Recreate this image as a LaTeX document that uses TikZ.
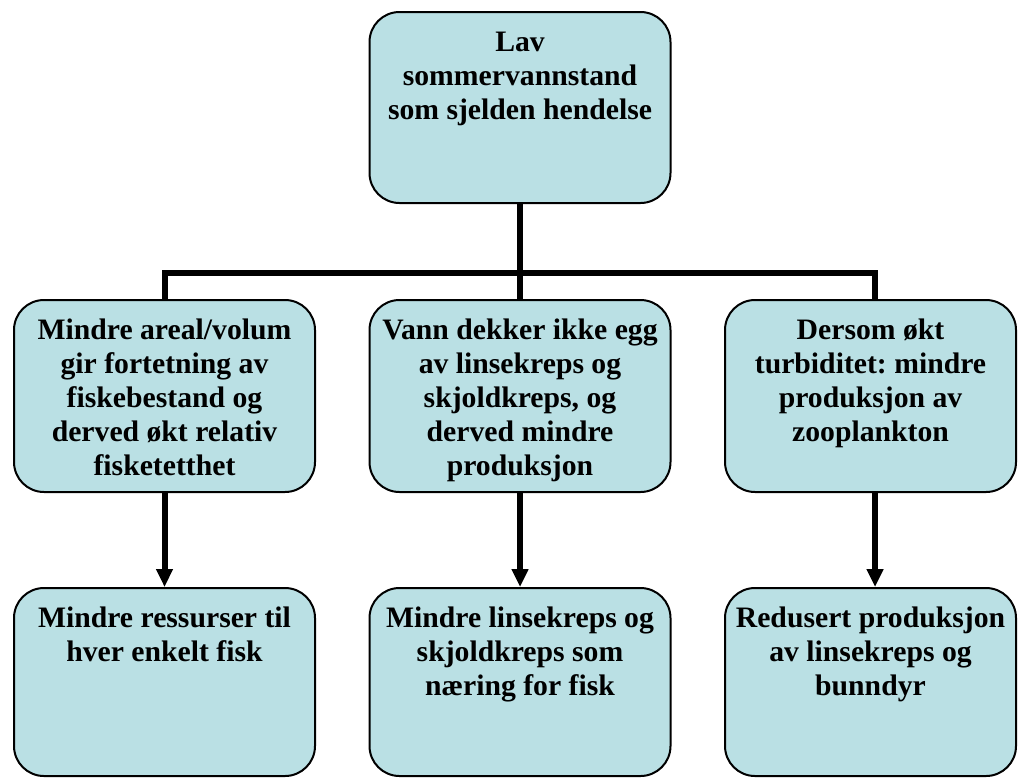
\documentclass[tikz,border=0pt]{standalone}
\usepackage{fontspec}
\setmainfont{Liberation Serif}
\usetikzlibrary{arrows.meta}
\definecolor{boxfill}{RGB}{186,224,228}
\frenchspacing
\newcommand{\mybt}[3]{\parbox[c][#2][t]{#1}{\centering\rule{0pt}{39pt}#3}}
\begin{document}
\begin{tikzpicture}[x=1pt,y=-1pt,
  box/.style={draw=black, line width=2pt, fill=boxfill, rounded corners=30pt, inner sep=0pt,
    font=\fontsize{29.7}{34}\selectfont\bfseries},
  conn/.style={line width=6pt, line join=miter},
  arr/.style={line width=6pt, -{Triangle[width=16pt,length=18pt]}}]
\useasboundingbox (0,0) rectangle (1019,777);

\node[box] (top) at (520,107.5) {\mybt{301pt}{191pt}{Lav\\ sommervannstand\\ som sjelden hendelse}};

\node[box] (ml) at (164.5,396) {\mybt{301pt}{192pt}{Mindre areal/volum\\ gir fortetning av\\ fiskebestand og\\ derved økt relativ\\ fisketetthet}};
\node[box] (mc) at (520,396) {\mybt{301pt}{192pt}{Vann dekker ikke egg\\ av linsekreps og\\ skjoldkreps, og\\ derved mindre\\ produksjon}};
\node[box] (mr) at (870.5,396) {\mybt{291pt}{192pt}{Dersom økt\\ turbiditet: mindre\\ produksjon av\\ zooplankton}};

\node[box] (bl) at (164.5,682) {\mybt{301pt}{188pt}{Mindre ressurser til\\ hver enkelt fisk}};
\node[box] (bc) at (520,682) {\mybt{301pt}{188pt}{Mindre linsekreps og\\ skjoldkreps som\\ næring for fisk}};
\node[box] (br) at (870.5,682) {\mybt{291pt}{188pt}{Redusert produksjon\\ av linsekreps og\\ bunndyr}};

\coordinate (jl) at (164.5,273);
\coordinate (jc) at (520,273);
\coordinate (jr) at (875,273);

\draw[conn] (top.south) -- (mc.north);
\draw[conn] (ml.north) -- (jl) -- (jr) -- (mr.north -| jr);

\draw[arr] (ml.south) -- (bl.north);
\draw[arr] (mc.south) -- (bc.north);
\draw[arr] (mr.south -| jr) -- (br.north -| jr);
\end{tikzpicture}
\end{document}
